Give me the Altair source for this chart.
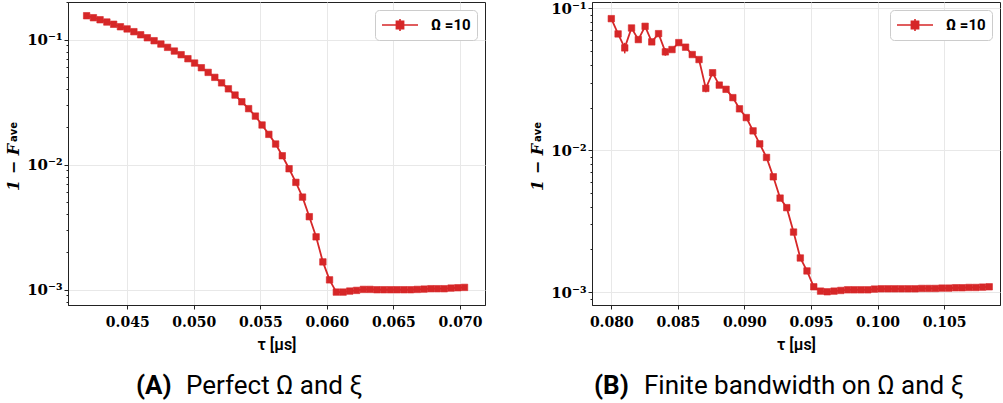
import altair as alt
import pandas as pd

RED = "#d62728"

# ---------------- data ----------------
tau_a = [0.04195, 0.04246, 0.04296, 0.04347, 0.04398, 0.04449, 0.04499, 0.04550,
         0.04601, 0.04651, 0.04702, 0.04753, 0.04803, 0.04854, 0.04905, 0.04956,
         0.05006, 0.05057, 0.05108, 0.05158, 0.05209, 0.05260, 0.05310, 0.05361,
         0.05412, 0.05463, 0.05513, 0.05564, 0.05615, 0.05665, 0.05716, 0.05767,
         0.05817, 0.05868, 0.05919, 0.05970, 0.06020, 0.06071, 0.06122, 0.06172,
         0.06223, 0.06274, 0.06324, 0.06375, 0.06426, 0.06477, 0.06527, 0.06578,
         0.06629, 0.06679, 0.06730, 0.06781, 0.06831, 0.06882, 0.06933, 0.06984,
         0.07034]
infid_a = [0.1556, 0.1500, 0.1445, 0.1386, 0.1330, 0.1270, 0.1220, 0.1160,
           0.1096, 0.1037, 0.0982, 0.0924, 0.0869, 0.0812, 0.0759, 0.0705,
           0.0651, 0.0597, 0.0548, 0.0500, 0.0452, 0.0405, 0.0361, 0.0319,
           0.0281, 0.0245, 0.0208, 0.0175, 0.01465, 0.0118, 0.00929, 0.00723,
           0.00551, 0.00384, 0.00265, 0.00167, 0.00120, 0.000958, 0.000958, 0.000976,
           0.000988, 0.001006, 0.001006, 0.001000, 0.001000, 0.001000, 0.001000, 0.001000,
           0.001000, 0.001006, 0.001012, 0.001019, 0.001019, 0.001019, 0.001031, 0.001037,
           0.001044]
err_a = [0.0] * 57

tau_b = [0.08000, 0.08051, 0.08101, 0.08152, 0.08203, 0.08254, 0.08304, 0.08355,
         0.08406, 0.08456, 0.08507, 0.08558, 0.08608, 0.08659, 0.08710, 0.08761,
         0.08811, 0.08862, 0.08913, 0.08963, 0.09014, 0.09065, 0.09115, 0.09166,
         0.09217, 0.09268, 0.09318, 0.09369, 0.09420, 0.09470, 0.09521, 0.09572,
         0.09622, 0.09673, 0.09724, 0.09775, 0.09825, 0.09876, 0.09927, 0.09977,
         0.10028, 0.10079, 0.10129, 0.10180, 0.10231, 0.10282, 0.10332, 0.10383,
         0.10434, 0.10484, 0.10535, 0.10586, 0.10636, 0.10687, 0.10738, 0.10789,
         0.10839]
infid_b = [0.0847, 0.0661, 0.0527, 0.0728, 0.0603, 0.0748, 0.0581, 0.0664,
           0.0494, 0.0513, 0.0574, 0.0533, 0.0473, 0.0436, 0.0273, 0.0352,
           0.0288, 0.0269, 0.0235, 0.0196, 0.0170, 0.0137, 0.0111, 0.0089,
           0.0065, 0.0046, 0.00394, 0.00265, 0.00174, 0.00141, 0.00109, 0.001016,
           0.001005, 0.001016, 0.001027, 0.001038, 0.001038, 0.001038, 0.001038, 0.001050,
           0.001055, 0.001055, 0.001055, 0.001055, 0.001055, 0.001055, 0.001061, 0.001061,
           0.001061, 0.001067, 0.001067, 0.001073, 0.001073, 0.001078, 0.001078, 0.001084,
           0.001090]
err_b = [0.0, 0.0, 0.0045, 0.0, 0.0, 0.0, 0.0, 0.0,
         0.0030, 0.0, 0.0, 0.0, 0.0, 0.0, 0.0017, 0.0,
         0.0, 0.0, 0.0, 0.0, 0.0, 0.0, 0.0, 0.0,
         0.0, 0.0, 0.0, 0.0, 0.0, 0.0, 0.0, 0.0,
         0.0, 0.0, 0.0, 0.0, 0.0, 0.0, 0.0, 0.0,
         0.0, 0.0, 0.0, 0.0, 0.0, 0.0, 0.0, 0.0,
         0.0, 0.0, 0.0, 0.0, 0.0, 0.0, 0.0, 0.0,
         0.0]

xdom_a = [0.04055, 0.07188]
xdom_b = [0.07855, 0.10920]
ydom_a = [7.55e-4, 0.2004]
ydom_b = [8.11e-4, 0.111]
xticks_a = [0.045, 0.050, 0.055, 0.060, 0.065, 0.070]
xticks_b = [0.080, 0.085, 0.090, 0.095, 0.100, 0.105]
series_label = "Ω =10"
x_title = "τ [μs]"
caption_a = ("(A)", "Perfect Ω and ξ")
caption_b = ("(B)", "Finite bandwidth on Ω and ξ")

H = 303
SERIF = "DejaVu Serif"
SANS = "Roboto"

IS_MAJOR = "abs(log(datum.value)/LN10 - round(log(datum.value)/LN10)) < 0.001"
LABEL_EXPR = ("(" + IS_MAJOR + ") ? ('10' + (round(log(datum.value)/LN10) == -1 ? '⁻¹' : "
              "(round(log(datum.value)/LN10) == -2 ? '⁻²' : '⁻³'))) : ''")


def log_ticks(dom):
    vals = []
    for k in range(-4, 0):
        for m in range(1, 10):
            v = round(m * 10 ** k, 10)
            if dom[0] <= v <= dom[1]:
                vals.append(v)
    return vals


def panel(tau, infid, err, xdom, ydom, xticks, width, cap, cap_x1, cap_x2):
    df = pd.DataFrame({
        "tau": tau,
        "v": infid,
        "lo": [max(v - e, v * 0.5) for v, e in zip(infid, err)],
        "hi": [v + e for v, e in zip(infid, err)],
        "s": [series_label] * len(tau),
    })
    x = alt.X("tau:Q", scale=alt.Scale(domain=xdom, nice=False, zero=False),
              axis=alt.Axis(values=xticks, format=".3f", title=x_title, grid=True,
                            tickSize=4, labelPadding=6, labelFontSize=14, titlePadding=7,
                            titleFont=SANS, titleFontSize=16, titleFontWeight=600,
                            titleColor="black"))
    y = alt.Y("v:Q", scale=alt.Scale(type="log", domain=ydom, nice=False),
              axis=alt.Axis(values=log_ticks(ydom), labelExpr=LABEL_EXPR, title=None,
                            labelPadding=2, labelFontSize=15,
                            gridOpacity={"condition": {"test": IS_MAJOR, "value": 1}, "value": 0},
                            tickSize={"condition": {"test": IS_MAJOR, "value": 4}, "value": 2}))
    base = alt.Chart(df)
    line = base.mark_line(color=RED, strokeWidth=1.8).encode(x=x, y=y)
    bars = base.mark_rule(color=RED, strokeWidth=1.5).encode(x="tau:Q", y="lo:Q", y2="hi:Q")
    pts = base.mark_point(shape="square", filled=True, size=42, opacity=1,
                          stroke=RED, strokeWidth=0.6).encode(
        x="tau:Q", y="v:Q",
        color=alt.Color("s:N", scale=alt.Scale(range=[RED]), legend=alt.Legend(
            title=None, orient="top-right", offset=8,
            symbolType="M-1,0H1M-0.2,-0.2H0.2V0.2H-0.2ZM0,-0.34V0.34",
            symbolSize=1296, symbolStrokeWidth=1.6, symbolFillColor=RED,
            symbolStrokeColor=RED, clipHeight=18, labelOffset=12,
            labelFont=SANS, labelFontSize=15, labelFontWeight="bold", labelColor="black",
            padding=6, strokeColor="#cccccc", fillColor="white", cornerRadius=4)))
    one = pd.DataFrame({"a": [0]})
    ytitle1 = alt.Chart(one).mark_text(text="1 − F", font=SERIF, fontSize=16, fontWeight="bold",
                                       fontStyle="italic", angle=270, align="right",
                                       baseline="alphabetic", color="black").encode(
        x=alt.value(-49), y=alt.value(142))
    ytitle2 = alt.Chart(one).mark_text(text="ave", font="DejaVu Sans", fontSize=10,
                                       fontWeight="bold", angle=270, align="left",
                                       baseline="alphabetic", color="black").encode(
        x=alt.value(-51), y=alt.value(140))
    capb = alt.Chart(one).mark_text(text=cap[0], font=SANS, fontSize=26, fontWeight="bold",
                                    align="left", baseline="alphabetic", color="black").encode(
        x=alt.value(cap_x1), y=alt.value(392))
    capt = alt.Chart(one).mark_text(text=cap[1], font=SANS, fontSize=26, fontWeight=400,
                                    align="left", baseline="alphabetic", color="black").encode(
        x=alt.value(cap_x2), y=alt.value(392))
    return alt.layer(line, bars, pts, ytitle1, ytitle2, capb, capt).properties(
        width=width, height=H)


left = panel(tau_a, infid_a, err_a, xdom_a, ydom_a, xticks_a, 417, caption_a, 68, 118)
right = panel(tau_b, infid_b, err_b, xdom_b, ydom_b, xticks_b, 408, caption_b, 2, 52)

chart = alt.hconcat(left, right, spacing=107, bounds="flush").resolve_scale(
    x="independent", y="independent", color="independent"
).resolve_legend(color="independent").properties(
    padding={"left": 5, "top": 0, "right": 0, "bottom": 0}
).configure_view(stroke="#222222", strokeWidth=1).configure_axis(
    labelFont=SERIF, labelFontWeight="bold", labelFontSize=13, labelColor="black",
    domainColor="#222222", tickColor="#222222", gridColor="#e8e8e8", gridWidth=1,
)

chart.save("out.html", embed_options={"renderer": "svg", "actions": False})
